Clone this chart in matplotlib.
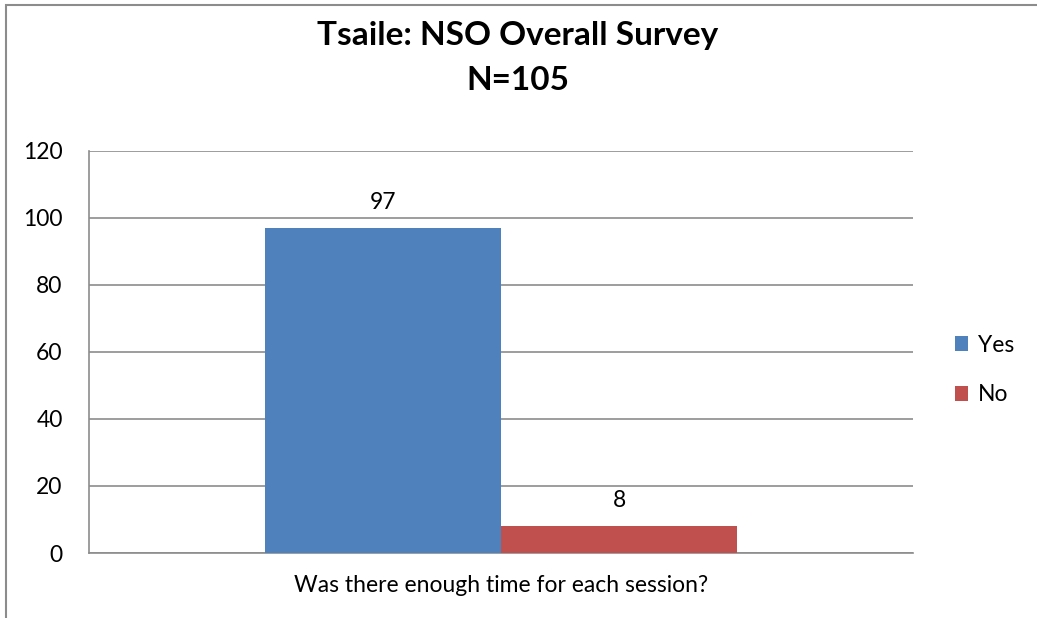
import matplotlib.pyplot as plt
from matplotlib.patches import Rectangle, Patch

plt.rcParams['font.family'] = ['Lato', 'DejaVu Sans']

category = ['Was there enough time for each session?']
series = ['Yes', 'No']
values = [97, 8]
colors = ['#4f81bd', '#c0504d']

W, H = 1037, 618
fig = plt.figure(figsize=(W / 100, H / 100), dpi=100)

# outer chart border (right and bottom edges fall outside the picture)
fig.patches.append(Rectangle((6 / W, -0.1), 1.2, 1.1 - 5 / H, transform=fig.transFigure,
                             fill=False, edgecolor='#8c8c8c', linewidth=1.5))

ax = fig.add_axes([89 / W, 1 - 553 / H, (913 - 89) / W, (553 - 151) / H])

fs = 16.5
width = 236 / 824
offsets = [-width / 2, width / 2]
for name, v, c, off in zip(series, values, colors, offsets):
    ax.bar(off, v, width=width, color=c, label=name, zorder=3)
    ax.text(off, v + 4.5, str(v), ha='center', va='bottom', fontsize=fs)

ax.set_xlim(-0.5, 0.5)
ax.set_ylim(0, 120)
ax.set_yticks(range(0, 121, 20))
ax.yaxis.grid(True, color='#8c8c8c', linewidth=1.2, zorder=0)
ax.set_xticks([0])
ax.set_xticklabels(category, fontsize=fs)
ax.tick_params(axis='x', length=0, pad=16)
ax.tick_params(axis='y', length=0, pad=19, labelsize=fs)
for s in ['top', 'right']:
    ax.spines[s].set_visible(False)
for s in ['left', 'bottom']:
    ax.spines[s].set_color('#8c8c8c')
    ax.spines[s].set_linewidth(1.2)

fig.text(518 / W, 1 - 36 / H, 'Tsaile: NSO Overall Survey', ha='center', va='center',
         fontsize=24, fontweight='bold')
fig.text(518 / W, 1 - 80 / H, 'N=105', ha='center', va='center',
         fontsize=24, fontweight='bold')

handles = [Patch(facecolor=c, label=n) for n, c in zip(series, colors)]
fig.legend(handles=handles, loc='center left', bbox_to_anchor=(934 / W, 1 - 370 / H),
           frameon=False, fontsize=fs, handlelength=0.6, handleheight=0.6,
           handletextpad=0.4, labelspacing=1.25)

fig.savefig('out.png', dpi=100)
